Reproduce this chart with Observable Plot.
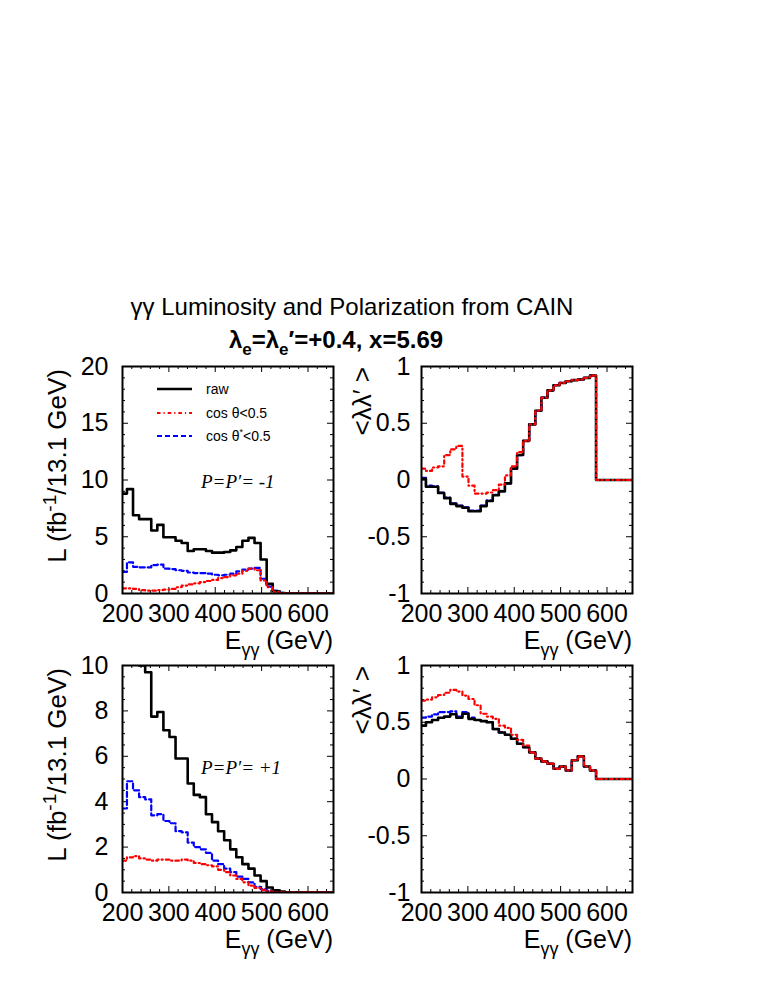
<!DOCTYPE html>
<html><head><meta charset="utf-8">
<script src="https://cdn.jsdelivr.net/npm/d3@7"></script>
<script src="https://cdn.jsdelivr.net/npm/@observablehq/plot@0.6"></script>
<style>
html,body{margin:0;padding:0;background:#fff;}
#root{position:relative;width:758px;height:981px;overflow:hidden;background:#fff;font-family:"Liberation Sans",Arial,sans-serif;}
#root svg{position:absolute;}
</style></head><body><div id="root"></div>
<script>
// ---- data ----
const binLo = [200, 209.6, 222.7, 235.8, 248.9, 262, 275.1, 288.2, 301.3, 314.4, 327.5, 340.6, 353.7, 366.8, 379.9, 393, 406.1, 419.2, 432.3, 445.4, 458.5, 471.6, 484.7, 497.8, 510.9, 524, 537.1, 550.2, 563.3, 576.4, 589.5, 602.6, 615.7, 628.8, 641.9];
const binEnd = 655;

// P=P'=-1 luminosity
const lumMinusRaw = [8.8, 9.2, 6.9, 6.55, 6.55, 5.55, 6.05, 4.95, 4.95, 4.65, 4.45, 3.75, 3.9, 3.9, 3.75, 3.6, 3.6, 3.65, 3.8, 4.1, 4.65, 4.9, 4.45, 3.0, 0.85, 0.2, 0.05, 0, 0, 0, 0, 0, 0, 0, 0];
const lumMinusCos = [0.45, 0.45, 0.4, 0.3, 0.25, 0.25, 0.3, 0.35, 0.4, 0.55, 0.7, 0.8, 0.9, 1.0, 1.1, 1.2, 1.35, 1.45, 1.6, 1.75, 2.0, 2.2, 2.05, 1.15, 0.55, 0.15, 0.04, 0.02, 0.02, 0.02, 0.02, 0.02, 0.02, 0.02, 0.02];
const lumMinusCosStar = [1.9, 2.75, 2.35, 2.3, 2.3, 2.5, 2.55, 2.2, 2.15, 2.05, 2.0, 1.85, 1.8, 1.8, 1.75, 1.65, 1.6, 1.65, 1.75, 1.95, 2.1, 2.2, 2.25, 1.3, 0.6, 0.25, 0.05, 0, 0, 0, 0, 0, 0, 0, 0];

// P=P'=-1 polarization <λλ'>
const polMinusRaw = [0.01, -0.06, -0.06, -0.115, -0.16, -0.21, -0.23, -0.245, -0.275, -0.275, -0.23, -0.185, -0.135, -0.10, -0.03, 0.10, 0.22, 0.345, 0.49, 0.61, 0.725, 0.79, 0.835, 0.855, 0.87, 0.88, 0.885, 0.90, 0.92, 0, 0, 0, 0, 0, 0];
const polMinusCos = [0.10, 0.08, 0.11, 0.12, 0.22, 0.27, 0.30, 0.03, -0.05, -0.12, -0.12, -0.11, -0.09, -0.04, 0.04, 0.12, 0.245, 0.345, 0.49, 0.61, 0.725, 0.79, 0.835, 0.855, 0.87, 0.88, 0.885, 0.90, 0.92, 0, 0, 0, 0, 0, 0];
const polMinusCosStar = [0.02, -0.05, -0.055, -0.11, -0.155, -0.205, -0.225, -0.24, -0.27, -0.27, -0.225, -0.18, -0.13, -0.095, -0.03, 0.10, 0.22, 0.345, 0.49, 0.61, 0.725, 0.79, 0.835, 0.855, 0.87, 0.88, 0.885, 0.90, 0.92, 0, 0, 0, 0, 0, 0];

// P=P'=+1 luminosity
const lumPlusRaw = [14, 13.5, 12.5, 10.0, 9.7, 7.75, 7.95, 7.15, 6.85, 5.9, 5.9, 4.8, 4.3, 4.2, 3.45, 3.1, 2.7, 2.3, 1.9, 1.55, 1.25, 1.05, 0.75, 0.5, 0.22, 0.1, 0.04, 0, 0, 0, 0, 0, 0, 0, 0];
const lumPlusCos = [1.4, 1.55, 1.6, 1.5, 1.45, 1.4, 1.45, 1.45, 1.4, 1.4, 1.45, 1.4, 1.3, 1.25, 1.2, 1.15, 1.0, 0.9, 0.75, 0.6, 0.45, 0.3, 0.2, 0.12, 0.05, 0.02, 0.02, 0.02, 0.02, 0.02, 0.02, 0.02, 0.02, 0.02, 0.02];
const lumPlusCosStar = [3.7, 4.9, 4.5, 4.2, 4.1, 3.4, 3.45, 3.15, 3.05, 2.7, 2.65, 2.2, 2.0, 1.9, 1.75, 1.4, 1.25, 1.05, 0.9, 0.7, 0.6, 0.45, 0.25, 0.15, 0.07, 0.03, 0, 0, 0, 0, 0, 0, 0, 0, 0];

// P=P'=+1 polarization
const polPlusRaw = [0.47, 0.50, 0.52, 0.54, 0.55, 0.57, 0.54, 0.575, 0.53, 0.52, 0.51, 0.50, 0.44, 0.41, 0.39, 0.355, 0.31, 0.28, 0.235, 0.18, 0.155, 0.135, 0.09, 0.11, 0.075, 0.165, 0.20, 0.11, 0.075, 0, 0, 0, 0, 0, 0];
const polPlusCos = [0.69, 0.70, 0.72, 0.74, 0.76, 0.785, 0.77, 0.735, 0.705, 0.65, 0.575, 0.55, 0.53, 0.47, 0.45, 0.39, 0.345, 0.295, 0.235, 0.18, 0.155, 0.135, 0.09, 0.11, 0.075, 0.165, 0.20, 0.11, 0.075, 0, 0, 0, 0, 0, 0];
const polPlusCosStar = [0.54, 0.55, 0.57, 0.59, 0.59, 0.595, 0.55, 0.59, 0.54, 0.52, 0.51, 0.50, 0.44, 0.41, 0.39, 0.355, 0.31, 0.28, 0.235, 0.18, 0.155, 0.135, 0.09, 0.11, 0.075, 0.165, 0.20, 0.11, 0.075, 0, 0, 0, 0, 0, 0];

// ticks
const xMajor = [200, 300, 400, 500, 600];
const xMajorLabels = ["200", "300", "400", "500", "600"];
const xMinor = [220, 240, 260, 280, 320, 340, 360, 380, 420, 440, 460, 480, 520, 540, 560, 580, 620, 640];
const lumTopMajor = [0, 5, 10, 15, 20];
const lumTopLabels = ["0", "5", "10", "15", "20"];
const lumTopMinor = [1, 2, 3, 4, 6, 7, 8, 9, 11, 12, 13, 14, 16, 17, 18, 19];
const lumBotMajor = [0, 2, 4, 6, 8, 10];
const lumBotLabels = ["0", "2", "4", "6", "8", "10"];
const lumBotMinor = [0.5, 1, 1.5, 2.5, 3, 3.5, 4.5, 5, 5.5, 6.5, 7, 7.5, 8.5, 9, 9.5];
const polMajor = [-1, -0.5, 0, 0.5, 1];
const polLabels = ["-1", "-0.5", "0", "0.5", "1"];
const polMinor = [-0.9, -0.8, -0.7, -0.6, -0.4, -0.3, -0.2, -0.1, 0.1, 0.2, 0.3, 0.4, 0.6, 0.7, 0.8, 0.9];

const legendNames = ["raw", "cos θ<0.5", "cos θ*<0.5"];

// ---- drawing ----
const root = document.getElementById("root");
const W = 211, H = 227, mL = 110, mR = 20, mT = 15, mB = 45;
const styles = {
  raw: {stroke: "#000", strokeWidth: 2.6},
  cos: {stroke: "#ff0000", strokeWidth: 2.2, strokeDasharray: "3.5,3,1.2,3"},
  star: {stroke: "#0000ff", strokeWidth: 2.2, strokeDasharray: "5,3"}
};

function steps(vals) {
  const pts = binLo.map((x, i) => ({x, y: vals[i]}));
  pts.push({x: binEnd, y: vals[vals.length - 1]});
  return pts;
}

function panel({left, top, yDomain, yMajor, yLabels, yMinor, raw, cos, star, clip, pad}) {
  const fmtX = new Map(xMajor.map((d, i) => [d, xMajorLabels[i]]));
  const fmtY = new Map(yMajor.map((d, i) => [d, yLabels[i]]));
  const t = {stroke: "#000", strokeWidth: 1};
  const svg = Plot.plot({
    width: W + mL + mR, height: H + mT + mB,
    marginLeft: mL, marginRight: mR, marginTop: mT, marginBottom: mB,
    x: {domain: [200, 655]},
    y: {domain: yDomain},
    style: {fontFamily: "'Liberation Sans', Arial, sans-serif", fontSize: "25px", color: "#000", background: "transparent", overflow: "visible"},
    marks: [
      Plot.tickX(xMinor, {x: d => d, insetTop: H - 3, ...t}),
      Plot.tickX(xMinor, {x: d => d, insetBottom: H - 3, ...t}),
      Plot.tickX(xMajor, {x: d => d, insetTop: H - 6, ...t}),
      Plot.tickX(xMajor, {x: d => d, insetBottom: H - 6, ...t}),
      Plot.tickY(yMinor, {y: d => d, insetRight: W - 3, ...t}),
      Plot.tickY(yMinor, {y: d => d, insetLeft: W - 3, ...t}),
      Plot.tickY(yMajor, {y: d => d, insetRight: W - 6, ...t}),
      Plot.tickY(yMajor, {y: d => d, insetLeft: W - 6, ...t}),
      Plot.line(steps(star), {x: "x", y: "y", curve: "step-after", clip, ...styles.star}),
      Plot.line(steps(raw), {x: "x", y: "y", curve: "step-after", clip, ...styles.raw}),
      Plot.line(steps(cos), {x: "x", y: "y", curve: "step-after", clip, ...styles.cos}),
      Plot.frame({stroke: "#000", strokeWidth: 2}),
      Plot.axisX(xMajor, {tickSize: 0, tickPadding: 11, tickFormat: d => fmtX.get(d), label: null, fontSize: 25}),
      Plot.axisY(yMajor, {tickSize: 0, tickPadding: pad, tickFormat: d => fmtY.get(d), label: null, fontSize: 25})
    ]
  });
  svg.style.position = "absolute";
  svg.style.left = (left - mL) + "px";
  svg.style.top = (top - mT) + "px";
  root.appendChild(svg);
}

panel({left: 122, top: 366, yDomain: [0, 20], yMajor: lumTopMajor, yLabels: lumTopLabels, yMinor: lumTopMinor,
  raw: lumMinusRaw, cos: lumMinusCos, star: lumMinusCosStar, clip: true, pad: 14});
panel({left: 421, top: 366, yDomain: [-1, 1], yMajor: polMajor, yLabels: polLabels, yMinor: polMinor,
  raw: polMinusRaw, cos: polMinusCos, star: polMinusCosStar, clip: true, pad: 11});
panel({left: 122, top: 665, yDomain: [0, 10], yMajor: lumBotMajor, yLabels: lumBotLabels, yMinor: lumBotMinor,
  raw: lumPlusRaw, cos: lumPlusCos, star: lumPlusCosStar, clip: true, pad: 14});
panel({left: 421, top: 665, yDomain: [-1, 1], yMajor: polMajor, yLabels: polLabels, yMinor: polMinor,
  raw: polPlusRaw, cos: polPlusCos, star: polPlusCosStar, clip: true, pad: 11});

// ---- text overlay ----
const ov = d3.select(root).append("svg")
  .attr("width", 758).attr("height", 981)
  .style("left", "0px").style("top", "0px")
  .attr("font-family", "'Liberation Sans', Arial, sans-serif")
  .attr("fill", "#000");

ov.append("text").attr("x", 352).attr("y", 315).attr("text-anchor", "middle").attr("font-size", 24)
  .text("γγ Luminosity and Polarization from CAIN");

const t2 = ov.append("text").attr("x", 336).attr("y", 348).attr("text-anchor", "middle")
  .attr("font-size", 24).attr("font-weight", "bold");
t2.append("tspan").text("λ");
t2.append("tspan").attr("dy", 7).attr("font-size", 17).text("e");
t2.append("tspan").attr("dy", -7).text("=λ");
t2.append("tspan").attr("dy", 7).attr("font-size", 17).text("e");
t2.append("tspan").attr("dy", -7).text("′=+0.4, x=5.69");

function xTitle(xRight, yBase) {
  const t = ov.append("text").attr("x", xRight).attr("y", yBase).attr("text-anchor", "end").attr("font-size", 25);
  t.append("tspan").text("E");
  t.append("tspan").attr("dy", 7).attr("font-size", 18).text("γγ");
  t.append("tspan").attr("dy", -7).text(" (GeV)");
}
xTitle(333, 649); xTitle(632, 649); xTitle(333, 948); xTitle(632, 948);

function yTitleLum(topY) {
  const t = ov.append("text").attr("transform", `translate(66,${topY}) rotate(-90)`)
    .attr("text-anchor", "end").attr("font-size", 26);
  t.append("tspan").text("L (fb");
  t.append("tspan").attr("dy", -10).attr("font-size", 19).text("-1");
  t.append("tspan").attr("dy", 10).text("/13.1 GeV)");
}
yTitleLum(369); yTitleLum(668);

function yTitlePol(topY) {
  ov.append("text").attr("transform", `translate(371,${topY}) rotate(-90)`)
    .attr("text-anchor", "end").attr("font-size", 26).text("<λλ′ >");
}
yTitlePol(367); yTitlePol(666);

// legend
const legY = [389, 413, 436];
const legStyles = [styles.raw, styles.cos, styles.star];
legendNames.forEach((name, i) => {
  const s = legStyles[i];
  ov.append("line").attr("x1", 157).attr("x2", 192).attr("y1", legY[i]).attr("y2", legY[i])
    .attr("stroke", s.stroke).attr("stroke-width", s.strokeWidth)
    .attr("stroke-dasharray", s.strokeDasharray || null);
  const t = ov.append("text").attr("x", 206).attr("y", legY[i] + 5).attr("font-size", 14);
  if (name.includes("*")) {
    const [a, b] = name.split("*");
    t.append("tspan").text(a);
    t.append("tspan").attr("dy", -6).attr("font-size", 9).text("*");
    t.append("tspan").attr("dy", 6).text(b);
  } else t.text(name);
});

// annotations
ov.append("text").attr("x", 201).attr("y", 488).attr("font-family", "'Liberation Serif', 'Times New Roman', serif")
  .attr("font-style", "italic").attr("font-size", 19).text("P=P′= -1");
ov.append("text").attr("x", 201).attr("y", 774).attr("font-family", "'Liberation Serif', 'Times New Roman', serif")
  .attr("font-style", "italic").attr("font-size", 19).text("P=P′= +1");
</script></body></html>
